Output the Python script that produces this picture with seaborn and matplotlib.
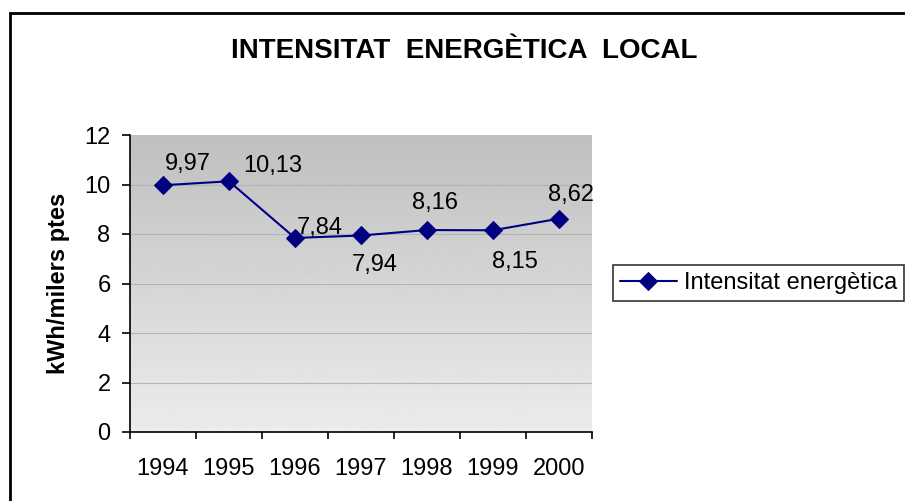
import numpy as np
import pandas as pd
import matplotlib
matplotlib.use('Agg')
import matplotlib.pyplot as plt
import matplotlib.patches as mpatches
import seaborn as sns

years = [1994, 1995, 1996, 1997, 1998, 1999, 2000]
intensitat = [9.97, 10.13, 7.84, 7.94, 8.16, 8.15, 8.62]
labels = ['9,97', '10,13', '7,84', '7,94', '8,16', '8,15', '8,62']
series_name = 'Intensitat energètica'

df = pd.DataFrame({'any': years, 'valor': intensitat})

sns.set_style('white')
plt.rcParams['font.family'] = ['Liberation Sans', 'DejaVu Sans']
plt.rcParams.update({'text.color': 'black', 'axes.labelcolor': 'black',
                     'xtick.color': 'black', 'ytick.color': 'black'})

fig = plt.figure(figsize=(9.05, 5.01), dpi=100)
ax = fig.add_axes([130 / 905, 69 / 501, 462 / 905, 297 / 501])

# outer chart frame
fig.patches.append(mpatches.Rectangle((10 / 905, -0.05), 1.2, 488 / 501 + 0.05,
                                      transform=fig.transFigure, fill=False,
                                      edgecolor='black', linewidth=2))

# gradient background (dark at top, light at bottom)
grad = np.linspace(0.925, 0.75, 256).reshape(-1, 1)
ax.imshow(grad, cmap='gray', vmin=0, vmax=1, aspect='auto',
          extent=[0, 1, 0, 1], transform=ax.transAxes, origin='lower', zorder=0)

for y in range(2, 12, 2):
    ax.axhline(y, color='#b4b4b4', linewidth=0.8, zorder=1)

sns.lineplot(data=df, x='any', y='valor', ax=ax, color='#000080', marker='D',
             markersize=9, markeredgecolor='#000080', linewidth=1.5,
             label=series_name, zorder=3)

# data labels, offsets in pixels from the point
offsets_px = [(25, 21), (44, 15), (25, 10), (14, -30), (8, 27), (22, -32), (12, 24)]
for x, y, t, (dx, dy) in zip(years, intensitat, labels, offsets_px):
    ax.annotate(t, (x, y), xytext=(dx * 0.72, dy * 0.72), textcoords='offset points',
                ha='center', va='center', fontsize=17, color='black', zorder=4)

ax.set_xlim(years[0] - 0.5, years[-1] + 0.5)
ax.set_ylim(0, 12)
ax.set_yticks(range(0, 13, 2))
ax.set_xticks(years)
ax.set_xticklabels([str(y) for y in years], fontsize=17)
ax.set_xticks(np.arange(years[0] - 0.5, years[-1] + 1, 1), minor=True)
ax.tick_params(axis='x', which='major', length=0, pad=19)
ax.tick_params(axis='x', which='minor', length=5, width=1.2, color='black', direction='out')
ax.tick_params(axis='y', length=6, width=1.2, color='black', direction='out', labelsize=17, pad=8)
ax.xaxis.set_ticks_position('bottom')
ax.yaxis.set_ticks_position('left')

for side in ['top', 'right']:
    ax.spines[side].set_visible(False)
for side in ['left', 'bottom']:
    ax.spines[side].set_color('black')
    ax.spines[side].set_linewidth(1.2)

ax.set_xlabel('')
ax.set_ylabel('kWh/milers ptes', fontsize=17, fontweight='bold', labelpad=10)

fig.text(464 / 905, 1 - 51 / 501, 'INTENSITAT  ENERGÈTICA  LOCAL', ha='center',
         va='center', fontsize=20, fontweight='bold')

ax.legend_.remove()
handles, lbls = ax.get_legend_handles_labels()
leg = fig.legend(handles, lbls, loc='center left', bbox_to_anchor=(613 / 905, 1 - 283 / 501),
                 fontsize=17, frameon=True, fancybox=False, handlelength=2.4,
                 borderpad=0.3, handletextpad=0.3, borderaxespad=0)
leg.get_frame().set_edgecolor('black')
leg.get_frame().set_linewidth(1.2)

fig.savefig('out.png', dpi=100)
